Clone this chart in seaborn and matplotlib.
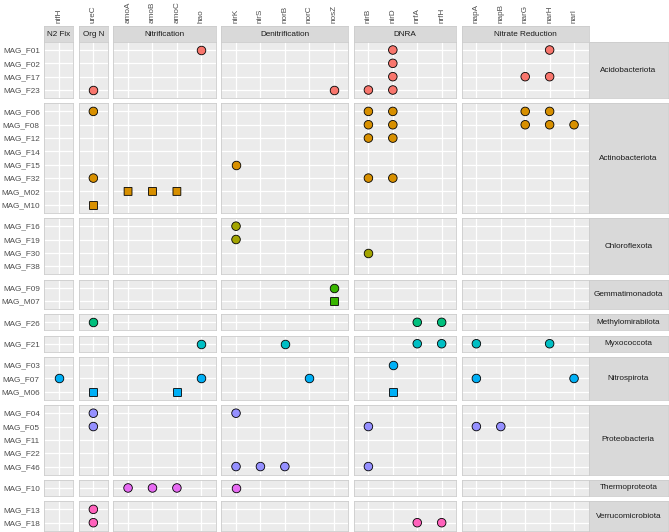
import numpy as np
import pandas as pd
import seaborn as sns
import matplotlib.pyplot as plt

# genes (x) grouped by pathway
pathways = ["N2 Fix", "Org N", "Nitrification", "Denitrification", "DNRA", "Nitrate Reduction"]
genes = ["nifH", "ureC", "amoA", "amoB", "amoC", "hao", "nirK", "nirS", "norB", "norC", "nosZ",
         "nirB", "nirD", "nrfA", "nrfH", "napA", "napB", "narG", "narH", "narI"]
gene_pathway = (["N2 Fix"] + ["Org N"] + ["Nitrification"] * 4 + ["Denitrification"] * 5
                + ["DNRA"] * 4 + ["Nitrate Reduction"] * 5)

# MAGs (y) grouped by phylum
phyla = ["Acidobacteriota", "Actinobacteriota", "Chloroflexota", "Gemmatimonadota",
         "Methylomirabilota", "Myxococcota", "Nitrospirota", "Proteobacteria",
         "Thermoproteota", "Verrucomicrobiota"]
mags = ["MAG_F01", "MAG_F02", "MAG_F17", "MAG_F23",
        "MAG_F06", "MAG_F08", "MAG_F12", "MAG_F14", "MAG_F15", "MAG_F32", "MAG_M02", "MAG_M10",
        "MAG_F16", "MAG_F19", "MAG_F30", "MAG_F38",
        "MAG_F09", "MAG_M07",
        "MAG_F26",
        "MAG_F21",
        "MAG_F03", "MAG_F07", "MAG_M06",
        "MAG_F04", "MAG_F05", "MAG_F11", "MAG_F22", "MAG_F46",
        "MAG_F10",
        "MAG_F13", "MAG_F18"]
mag_phylum = (["Acidobacteriota"] * 4 + ["Actinobacteriota"] * 8 + ["Chloroflexota"] * 4
              + ["Gemmatimonadota"] * 2 + ["Methylomirabilota"] + ["Myxococcota"]
              + ["Nitrospirota"] * 3 + ["Proteobacteria"] * 5 + ["Thermoproteota"]
              + ["Verrucomicrobiota"] * 2)
# genes detected in each MAG
mag_genes = ["hao nirD narH", "nirD", "nirD narG narH", "ureC nosZ nirB nirD",
             "ureC nirB nirD narG narH", "nirB nirD narG narH narI", "nirB nirD", "", "nirK",
             "ureC nirB nirD", "amoA amoB amoC", "ureC",
             "nirK", "nirK", "nirB", "",
             "nosZ", "nosZ",
             "ureC nrfA nrfH",
             "hao norB nrfA nrfH napA narH",
             "nirD", "nifH hao norC napA narI", "ureC amoC nirD",
             "ureC nirK", "ureC nirB napA napB", "", "", "nirK nirS norB nirB",
             "amoA amoB amoC nirK",
             "ureC", "ureC nrfA nrfH"]

phylum_colors = ["#F8766D", "#D89000", "#A3A500", "#39B600", "#00BF7D",
                 "#00BFC4", "#00B0F6", "#9590FF", "#E76BF3", "#FF62BC"]
palette = dict(zip(phyla, phylum_colors))

rows = []
for mag, phy, gl in zip(mags, mag_phylum, mag_genes):
    for g in gl.split():
        rows.append((mag, phy, g))
df = pd.DataFrame(rows, columns=["mag", "phylum", "gene"])
df["pathway"] = df["gene"].map(dict(zip(genes, gene_pathway)))
df["source"] = df["mag"].str[4]
genes_in = {p: [g for g, q in zip(genes, gene_pathway) if q == p] for p in pathways}
mags_in = {p: [m for m, q in zip(mags, mag_phylum) if q == p] for p in phyla}
df["xpos"] = [genes_in[p].index(g) for p, g in zip(df["pathway"], df["gene"])]
df["ypos"] = [mags_in[p].index(m) for p, m in zip(df["phylum"], df["mag"])]

sns.set_theme(style="darkgrid")
plt.rcParams["font.family"] = ["Liberation Sans", "DejaVu Sans"]

W, H = 669, 532
fig = plt.figure(figsize=(W / 100, H / 100), dpi=100)


def add_px(l, t, w, h):
    return fig.add_axes([l / W, 1 - (t + h) / H, w / W, h / H])


x0, x1 = 44.0, 588.7
ys, y0, y1 = 26.0, 42.0, 530.7
gap = 5.4
strip_r = 668.0
col_n = [len(genes_in[p]) for p in pathways]
row_n = [len(mags_in[p]) for p in phyla]
ux = (x1 - x0 - gap * (len(col_n) - 1)) / sum(n + 0.2 for n in col_n)
uy = (y1 - y0 - gap * (len(row_n) - 1)) / sum(n + 0.2 for n in row_n)

fs = 5.85
border = "#CCCCCC"

lefts = np.cumsum([x0] + [(n + 0.2) * ux + gap for n in col_n[:-1]])
tops = np.cumsum([y0] + [(n + 0.2) * uy + gap for n in row_n[:-1]])

for j, p in enumerate(pathways):
    nc = col_n[j]
    w = (nc + 0.2) * ux
    # top strip with gene labels above it
    sax = add_px(lefts[j], ys, w, y0 - ys)
    sax.set_facecolor("#D9D9D9")
    sax.set_xlim(-0.6, nc - 0.4)
    sax.set_ylim(0, 1)
    sax.set_xticks(range(nc))
    sax.set_xticklabels(genes_in[p], rotation=90, fontsize=fs, color="#4D4D4D")
    sax.set_yticks([])
    sax.tick_params(axis="x", length=0, top=True, labeltop=True, bottom=False,
                    labelbottom=False, pad=2.5)
    sax.grid(False)
    for s in sax.spines.values():
        s.set_color(border)
        s.set_linewidth(0.6)
    sax.text(0.5, 0.5, p, transform=sax.transAxes, ha="center", va="center",
             fontsize=fs, color="#1A1A1A")

    for i, ph in enumerate(phyla):
        nr = row_n[i]
        h = (nr + 0.2) * uy
        ax = add_px(lefts[j], tops[i], w, h)
        ax.set_facecolor("#EBEBEB")
        sub = df[(df["pathway"] == p) & (df["phylum"] == ph)]
        for src, mk, sz in [("F", "o", 38), ("M", "s", 32)]:
            part = sub[sub["source"] == src]
            if len(part):
                sns.scatterplot(data=part, x="xpos", y="ypos", hue="phylum", palette=palette,
                                marker=mk, s=sz, edgecolor="black", linewidth=0.6,
                                legend=False, ax=ax, zorder=3, snap=False)
        ax.set_xlabel("")
        ax.set_ylabel("")
        ax.set_xlim(-0.6, nc - 0.4)
        ax.set_ylim(nr - 0.4, -0.6)
        ax.set_xticks(range(nc))
        ax.set_yticks(range(nr))
        ax.grid(True, color="white", linewidth=0.9)
        ax.set_axisbelow(True)
        ax.tick_params(length=0, labelbottom=False, labelleft=(j == 0), pad=3)
        if j == 0:
            ax.set_yticklabels(mags_in[ph], fontsize=fs, color="#4D4D4D")
        for s in ax.spines.values():
            s.set_visible(True)
            s.set_color(border)
            s.set_linewidth(0.6)

        if j == len(pathways) - 1:
            rax = add_px(x1, tops[i], strip_r - x1, h)
            rax.set_facecolor("#D9D9D9")
            rax.set_xticks([])
            rax.set_yticks([])
            rax.grid(False)
            for s in rax.spines.values():
                s.set_visible(True)
                s.set_color(border)
                s.set_linewidth(0.6)
            rax.text(0.5, 0.5, ph, transform=rax.transAxes, ha="center", va="center",
                     fontsize=fs, color="#1A1A1A")

fig.savefig("out.png", dpi=100, facecolor="white")
